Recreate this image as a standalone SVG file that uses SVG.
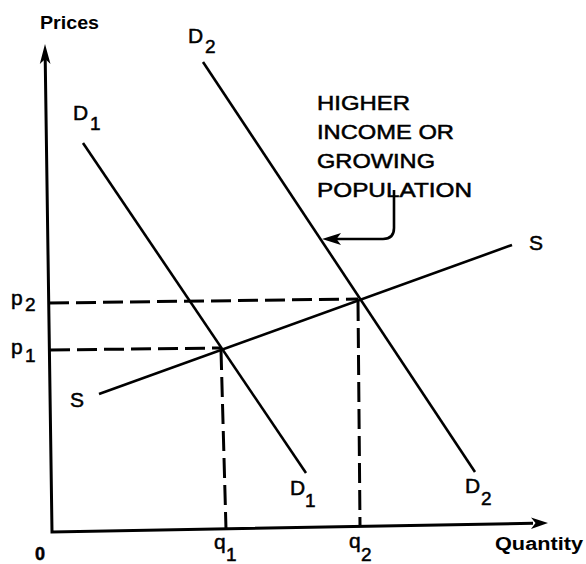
<svg xmlns="http://www.w3.org/2000/svg" width="586" height="564" viewBox="0 0 586 564">
<style>
.ax{stroke:#000;stroke-width:3;fill:none;stroke-linecap:butt}
.cv{stroke:#000;stroke-width:2.6;fill:none}
.ds{stroke:#000;stroke-width:3;fill:none;stroke-dasharray:20 7}
.ah{fill:#000;stroke:none}
text{font-family:"Liberation Sans",Arial,sans-serif;fill:#000;stroke:#000;stroke-width:0.5}
.lb{font-size:21px}
.sb{font-size:19px}
.ax-t{font-size:18px;font-weight:bold;stroke-width:0}
.note{font-size:20px}
</style>
<rect width="586" height="564" fill="#fff"/>
<g id="axes">
  <path class="ax" d="M45.2,58 L52,532 L533,523.3"/>
  <polygon class="ah" points="45,44 50.5,64 45.2,59 39.8,64"/>
  <polygon class="ah" points="548,523 531,517.4 535.5,523.1 531,529"/>
  <text class="ax-t" x="40" y="29" textLength="59" lengthAdjust="spacingAndGlyphs">Prices</text>
  <text class="ax-t" x="495" y="550" textLength="88" lengthAdjust="spacingAndGlyphs">Quantity</text>
  <text x="35" y="560" font-size="18" font-weight="bold" stroke-width="0">0</text>
</g>
<g id="guides">
  <path class="ds" d="M50,350 L221,348"/>
  <path class="ds" d="M49,303 L358,299"/>
  <path class="ds" d="M221,350 L226,529"/>
  <path class="ds" d="M358,301 L360,525"/>
  <text class="lb" x="11" y="305" font-size="22">p</text><text class="sb" x="25" y="311">2</text>
  <text class="lb" x="11" y="354" font-size="22">p</text><text class="sb" x="25" y="362">1</text>
  <text class="lb" x="214" y="549">q</text><text class="sb" x="226" y="561">1</text>
  <text class="lb" x="349" y="548">q</text><text class="sb" x="361" y="561">2</text>
</g>
<g id="demand1">
  <path class="cv" d="M83,143 L306,473"/>
  <text class="lb" x="73" y="120">D</text><text class="sb" x="90" y="130">1</text>
  <text class="lb" x="290" y="495">D</text><text class="sb" x="305" y="507">1</text>
</g>
<g id="demand2">
  <path class="cv" d="M203,62 L475,472"/>
  <text class="lb" x="188" y="43">D</text><text class="sb" x="205" y="53">2</text>
  <text class="lb" x="465" y="493">D</text><text class="sb" x="481" y="505">2</text>
</g>
<g id="supply">
  <path class="cv" d="M99,394 L512,245"/>
  <text class="lb" x="529" y="250">S</text>
  <text class="lb" x="70" y="407">S</text>
</g>
<g id="annotation">
  <text class="note" x="317" y="110" textLength="93" lengthAdjust="spacingAndGlyphs">HIGHER</text>
  <text class="note" x="317" y="139" textLength="137" lengthAdjust="spacingAndGlyphs">INCOME OR</text>
  <text class="note" x="317" y="168" textLength="118" lengthAdjust="spacingAndGlyphs">GROWING</text>
  <text class="note" x="317" y="197" textLength="155" lengthAdjust="spacingAndGlyphs">POPULATION</text>
</g>
<g id="connectors">
  <path class="cv" d="M394,190 L394,228 Q394,239 383,239 L336,239"/>
  <polygon class="ah" points="322,239 341,233 336.5,239 341,245"/>
</g>
</svg>
